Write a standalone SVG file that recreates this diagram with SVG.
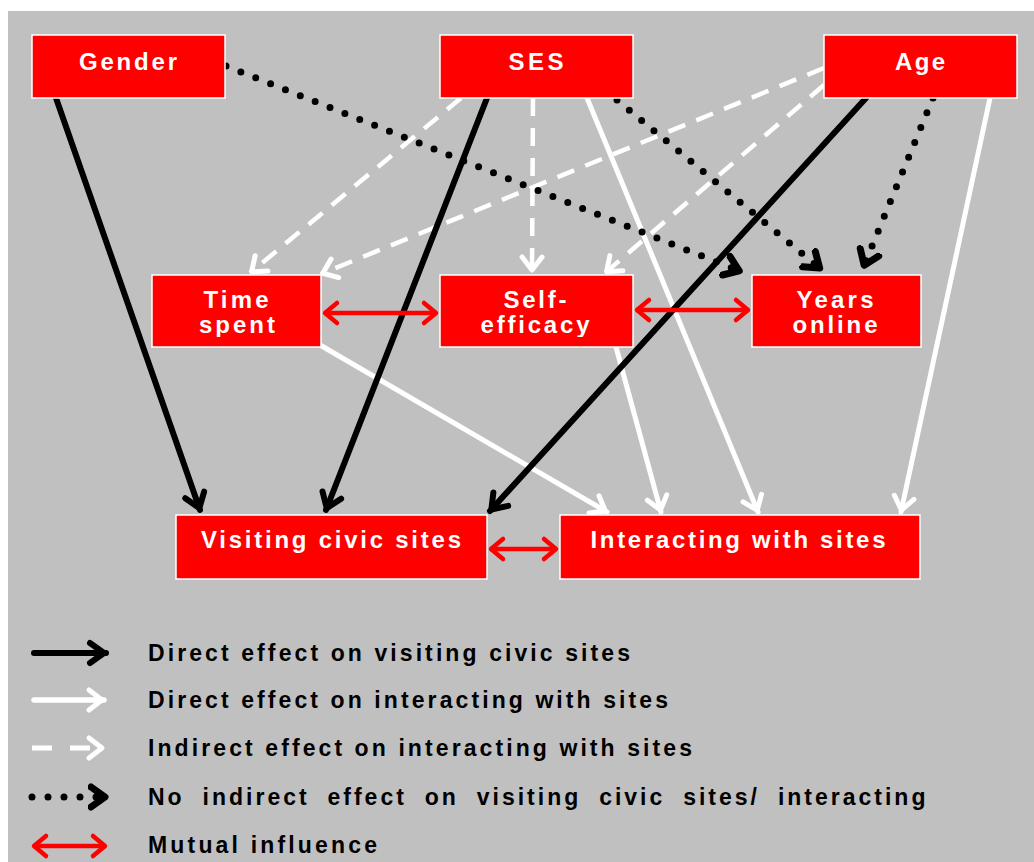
<svg xmlns="http://www.w3.org/2000/svg" width="1034" height="862" viewBox="0 0 1034 862">
<style>
.node rect{fill:#FF0000;stroke:#FFFFFF;stroke-width:1.5}
.node text{fill:#FFFFFF;font-family:"Liberation Sans",Arial,sans-serif;font-weight:bold;font-size:24px;text-anchor:middle}
.leg text{fill:#000000;font-family:"Liberation Sans",Arial,sans-serif;font-weight:bold;font-size:23px}
.blk{stroke:#000;stroke-width:6;fill:none;stroke-linecap:round;marker-end:url(#mb)}
.wht{stroke:#FFF;stroke-width:5;fill:none;stroke-linecap:round;marker-end:url(#mw)}
.dsh{stroke:#FFF;stroke-width:4.5;fill:none;stroke-dasharray:18 12;marker-end:url(#mw)}
.dot{stroke:#000;stroke-width:7;fill:none;stroke-linecap:round;stroke-dasharray:0 16;marker-end:url(#md)}
.red{stroke:#FF0000;stroke-width:4.5;fill:none;marker-start:url(#mr);marker-end:url(#mr)}
</style>
<defs>
<marker id="mb" markerUnits="userSpaceOnUse" markerWidth="40" markerHeight="40" viewBox="-20 -20 40 40" refX="0" refY="0" orient="auto">
<path d="M-16,-10 L-2,0 L-16,10" fill="none" stroke="#000" stroke-width="6" stroke-linecap="round" stroke-linejoin="round"/>
</marker>
<marker id="mw" markerUnits="userSpaceOnUse" markerWidth="40" markerHeight="40" viewBox="-20 -20 40 40" refX="0" refY="0" orient="auto">
<path d="M-15,-10 L-2,0 L-15,10" fill="none" stroke="#FFF" stroke-width="5" stroke-linecap="round" stroke-linejoin="round"/>
</marker>
<marker id="md" markerUnits="userSpaceOnUse" markerWidth="40" markerHeight="40" viewBox="-20 -20 40 40" refX="0" refY="0" orient="auto">
<path d="M-17,-10 L-3,0 L-17,10" fill="none" stroke="#000" stroke-width="7" stroke-linecap="round" stroke-linejoin="round"/>
</marker>
<marker id="mr" markerUnits="userSpaceOnUse" markerWidth="40" markerHeight="40" viewBox="-20 -20 40 40" refX="0" refY="0" orient="auto-start-reverse">
<path d="M-13,-10 L-1,0 L-13,10" fill="none" stroke="#FF0000" stroke-width="4.5" stroke-linecap="round" stroke-linejoin="round"/>
</marker>
<clipPath id="clipMid"><rect x="140" y="270" width="800" height="67"/></clipPath>
</defs>
<rect x="0" y="0" width="1034" height="862" fill="#FFFFFF"/>
<rect x="8" y="11" width="1026" height="851" fill="#C0C0C0"/>

<g id="connectors">
<line class="dsh" x1="461" y1="98" x2="250" y2="273"/>
<line class="dsh" x1="824" y1="68" x2="321" y2="274"/>
<line class="dsh" x1="533" y1="98" x2="532" y2="272"/>
<line class="dsh" x1="824" y1="85" x2="605" y2="273"/>
<line class="wht" x1="587" y1="98" x2="758" y2="512"/>
<line class="wht" x1="990" y1="98" x2="901" y2="512"/>
<line class="wht" x1="320" y1="345" x2="607" y2="512"/>
<line class="wht" x1="616" y1="347" x2="661" y2="512"/>
<line class="blk" x1="56" y1="98" x2="200" y2="510"/>
<line class="blk" x1="487" y1="98" x2="326" y2="510"/>
<line class="blk" x1="866" y1="98" x2="490" y2="511"/>
<line class="dot" x1="226" y1="66" x2="742" y2="272"/>
<line class="dot" x1="617" y1="100" x2="822" y2="270"/>
<line class="dot" x1="933" y1="98" x2="863" y2="268"/>
<line class="red" x1="324" y1="313" x2="437" y2="313"/>
<line class="red" x1="636" y1="310" x2="749" y2="310"/>
<line class="red" x1="490" y1="549" x2="557" y2="549"/>
</g>

<g id="gender" class="node"><rect x="32" y="35" width="193" height="63"/><text x="128" y="70" textLength="98">Gender</text></g>
<g id="ses" class="node"><rect x="440" y="35" width="193" height="63"/><text x="536" y="70" textLength="55">SES</text></g>
<g id="age" class="node"><rect x="824" y="35" width="193" height="63"/><text x="920" y="70" textLength="50">Age</text></g>
<g id="time-spent" class="node"><rect x="152" y="275" width="169" height="72"/><g clip-path="url(#clipMid)"><text x="236" y="308" textLength="65">Time</text><text x="237" y="333" textLength="76">spent</text></g></g>
<g id="self-efficacy" class="node"><rect x="440" y="275" width="193" height="72"/><g clip-path="url(#clipMid)"><text x="535" y="308" textLength="63">Self-</text><text x="535" y="333" textLength="109">efficacy</text></g></g>
<g id="years-online" class="node"><rect x="752" y="275" width="169" height="72"/><g clip-path="url(#clipMid)"><text x="835" y="308" textLength="77">Years</text><text x="835" y="333" textLength="85">online</text></g></g>
<g id="visiting" class="node"><rect x="176" y="515" width="311" height="64"/><text x="331" y="548" textLength="260">Visiting civic sites</text></g>
<g id="interacting" class="node"><rect x="560" y="515" width="360" height="64"/><text x="738" y="548" textLength="295">Interacting with sites</text></g>

<g id="legend" class="leg">
<line x1="34" y1="653" x2="106" y2="653" stroke="#000" stroke-width="6" stroke-linecap="round" marker-end="url(#mb)"/>
<line x1="34" y1="700" x2="104" y2="700" stroke="#FFF" stroke-width="5.5" stroke-linecap="round" marker-end="url(#mw)"/>
<line x1="32" y1="748" x2="104" y2="748" stroke="#FFF" stroke-width="5" stroke-dasharray="20 18" marker-end="url(#mw)"/>
<line x1="32" y1="797" x2="108" y2="797" stroke="#000" stroke-width="7" stroke-linecap="round" stroke-dasharray="0 16" marker-end="url(#md)"/>
<line x1="33" y1="846" x2="106" y2="846" stroke="#FF0000" stroke-width="4.5" marker-start="url(#mr)" marker-end="url(#mr)"/>
<text x="148" y="661" textLength="482">Direct effect on visiting civic sites</text>
<text x="148" y="708" textLength="520">Direct effect on interacting with sites</text>
<text x="148" y="756" textLength="544">Indirect effect on interacting with sites</text>
<text x="148" y="805" letter-spacing="3" word-spacing="8.5">No indirect effect on visiting civic sites/ interacting</text>
<text x="148" y="853" textLength="229">Mutual influence</text>
</g>
</svg>
